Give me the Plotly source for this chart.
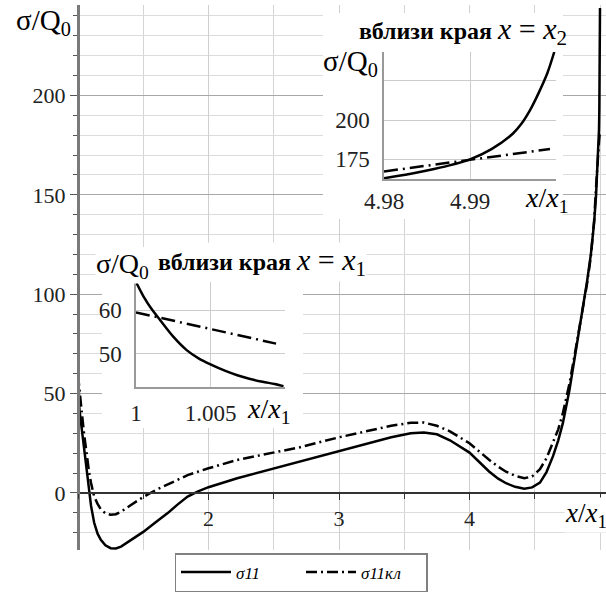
import plotly.graph_objects as go

# ---------------- data ----------------
x_main = [1.0, 1.002, 1.005, 1.01, 1.02, 1.03, 1.047, 1.065, 1.086, 1.1, 1.124, 1.15, 1.175,
          1.21, 1.25, 1.29, 1.33, 1.4, 1.5, 1.6, 1.69, 1.76, 1.84, 1.92, 2.0, 2.22, 2.5,
          2.7, 3.0, 3.2, 3.4, 3.55, 3.65, 3.75, 3.85, 4.0, 4.08, 4.15, 4.22, 4.28, 4.35,
          4.42, 4.48, 4.54, 4.59, 4.64, 4.68, 4.715, 4.766, 4.818, 4.868, 4.9, 4.93,
          4.955, 4.97, 4.98, 4.985, 4.99, 4.9925, 4.995, 4.997, 4.9985, 5.0]
s11_main = [66.5, 56.5, 47.5, 42.5, 37.0, 31.5, 21.6, 11.0, 0.0, -6.5, -15.0, -20.5, -23.6,
            -26.3, -27.8, -27.9, -27.0, -24.0, -19.6, -14.5, -10.0, -6.0, -1.8, 0.8, 2.9, 7.4, 12.3,
            15.7, 21.0, 24.5, 28.0, 30.0, 30.4, 29.5, 26.5, 20.3, 15.5, 10.8, 7.2, 4.9, 3.1,
            2.1, 2.8, 5.2, 10.5, 18.5, 26.5, 35.0, 51.8, 72.0, 93.0, 106.0, 120.0,
            136.0, 150.0, 163.0, 168.2, 175.0, 183.0, 193.4, 211.0, 228.0, 244.0]
s11kl_main = [59.5, 58.0, 55.7, 52.0, 46.0, 40.0, 29.5, 19.5, 10.0, 5.0, -1.8, -5.5, -8.3,
              -10.2, -11.0, -10.7, -9.4, -6.3, -2.0, 1.6, 4.2, 6.5, 9.0, 10.8, 12.4, 16.6, 20.5,
              23.0, 28.0, 31.0, 33.8, 35.3, 35.4, 33.8, 31.0, 25.0, 20.5, 16.7, 13.2, 10.7, 8.6,
              7.4, 8.3, 12.0, 17.5, 25.3, 32.0, 40.0, 55.0, 74.0, 93.0, 105.0, 119.0,
              137.0, 154.0, 167.3, 171.1, 174.8, 176.7, 178.6, 180.0, 181.0, 181.8]

# inset near x = x1
x_in1 = [1.0, 1.0005, 1.001, 1.0016, 1.0025, 1.0034, 1.0042, 1.005, 1.006, 1.0068,
         1.0076, 1.0085, 1.0093, 1.0099]
s11_in1 = [66.5, 63.2, 60.5, 57.8, 53.9, 50.8, 48.9, 47.5, 46.0, 45.0, 44.2, 43.5, 43.0, 42.5]
x_in1_kl = [1.0, 1.0025, 1.005, 1.0075, 1.0094]
s11kl_in1 = [59.5, 57.6, 55.7, 53.8, 52.3]

# inset near x = x2
x_in2 = [4.98, 4.9825, 4.985, 4.9875, 4.99, 4.9925, 4.995, 4.996, 4.997, 4.998, 4.999, 4.9998]
s11_in2 = [163.0, 165.2, 167.9, 171.0, 175.0, 181.5, 191.5, 197.8, 206.5, 217.5, 230.0, 243.4]
x_in2_kl = [4.98, 4.985, 4.99, 4.995, 4.9993]
s11kl_in2 = [167.3, 171.1, 174.8, 178.6, 181.6]

main_xticks = [2, 3, 4]
main_yticks = [0, 50, 100, 150, 200]
in1_xticks = [1, 1.005]
in1_xtext = ["1", "1.005"]
in1_yticks = [50, 60]
in2_xticks = [4.98, 4.99]
in2_xtext = ["4.98", "4.99"]
in2_yticks = [175, 200, 225]
in2_ytext = ["175", "200", ""]

series_names = ["<i>σ11</i>", "<i>σ11кл</i>"]

# ---------------- layout geometry ----------------
W, H = 606, 598
ML, MR, MT, MB = 78, 0, 5, 48
PW, PH = W - ML - MR, H - MT - MB
XR = [1.0, 5.046]
YR = [-28.7, 245.5]
FONT = "'Liberation Serif', 'Times New Roman', Times, 'DejaVu Serif', serif"


def px(xp):
    return (xp - ML) / PW


def py(yp):
    return (H - MB - yp) / PH


def dx(xp):
    return XR[0] + px(xp) * (XR[1] - XR[0])


def dy(yp):
    return YR[0] + py(yp) * (YR[1] - YR[0])


DASH_MAIN = "11px,4px,2px,4px"
DASH_IN = "14px,5px,2px,5px"

fig = go.Figure()
fig.add_trace(go.Scatter(x=x_main, y=s11_main, mode="lines", name=series_names[0],
                         line=dict(color="black", width=2.5), xaxis="x", yaxis="y"))
fig.add_trace(go.Scatter(x=x_main, y=s11kl_main, mode="lines", name=series_names[1],
                         line=dict(color="black", width=2.5, dash=DASH_MAIN), xaxis="x", yaxis="y"))
fig.add_trace(go.Scatter(x=x_in1, y=s11_in1, mode="lines", showlegend=False,
                         line=dict(color="black", width=2.5, shape="spline", smoothing=0.8),
                         xaxis="x2", yaxis="y2"))
fig.add_trace(go.Scatter(x=x_in1_kl, y=s11kl_in1, mode="lines", showlegend=False,
                         line=dict(color="black", width=2.5, dash=DASH_IN), xaxis="x2", yaxis="y2"))
fig.add_trace(go.Scatter(x=x_in2, y=s11_in2, mode="lines", showlegend=False,
                         line=dict(color="black", width=2.5, shape="spline", smoothing=0.8),
                         xaxis="x3", yaxis="y3"))
fig.add_trace(go.Scatter(x=x_in2_kl, y=s11kl_in2, mode="lines", showlegend=False,
                         line=dict(color="black", width=2.5, dash=DASH_IN), xaxis="x3", yaxis="y3"))

tickfont_main = dict(family=FONT, size=22, color="#222")
tickfont_in = dict(family=FONT, size=23, color="#222")

fig.update_layout(
    width=W, height=H, template="none",
    font=dict(family=FONT),
    margin=dict(l=ML, r=MR, t=MT, b=MB, autoexpand=False),
    paper_bgcolor="white", plot_bgcolor="white",
    showlegend=True,
    legend=dict(orientation="h", x=px(301), xanchor="center", y=py(592), yanchor="bottom",
                bordercolor="#808080", borderwidth=1.5, bgcolor="white",
                font=dict(family=FONT, size=17, color="black"), itemwidth=50,
                entrywidth=60, entrywidthmode="pixels"),
    xaxis=dict(domain=[0, 1], range=XR, anchor="free", position=(0 - YR[0]) / (YR[1] - YR[0]),
               tickmode="array", tickvals=main_xticks, ticks="outside", ticklen=6,
               tickcolor="#333", showline=True, linecolor="#333", linewidth=2,
               showgrid=True, gridcolor="#cfcfcf", zeroline=False, tickfont=tickfont_main,
               minor=dict(dtick=0.5, tick0=1, ticks="outside", ticklen=5, tickcolor="#333",
                          showgrid=True, gridcolor="#d4d4d4")),
    yaxis=dict(domain=[0, 1], range=YR, anchor="free", position=0,
               tickmode="array", tickvals=main_yticks, ticks="outside", ticklen=7,
               tickcolor="#555", showline=True, linecolor="#7a7a7a", linewidth=3,
               showgrid=True, gridcolor="#a8a8a8", zeroline=False, tickfont=tickfont_main,
               minor=dict(dtick=10, tick0=0, ticks="outside", ticklen=4, tickcolor="#555",
                          showgrid=True, gridcolor="#dcdcdc")),
    xaxis2=dict(domain=[px(136), px(285)], range=[1.0, 1.01], anchor="y2",
                tickmode="array", tickvals=in1_xticks, ticktext=in1_xtext, ticks="",
                showline=True, linecolor="#999", linewidth=1.5, showgrid=True,
                gridcolor="#cccccc", zeroline=False, tickfont=tickfont_in, ticklabelstandoff=5),
    yaxis2=dict(domain=[py(387), py(282)], range=[42.3, 66.5], anchor="x2",
                tickmode="array", tickvals=in1_yticks, ticks="",
                showline=True, linecolor="#999", linewidth=1.5, showgrid=True,
                gridcolor="#cccccc", zeroline=False, tickfont=tickfont_in, ticklabelstandoff=8),
    xaxis3=dict(domain=[px(384), px(556)], range=[4.98, 5.0], anchor="y3",
                tickmode="array", tickvals=in2_xticks, ticktext=in2_xtext, ticks="",
                showline=True, linecolor="#999", linewidth=1.5, showgrid=True,
                gridcolor="#cccccc", zeroline=False, tickfont=tickfont_in, ticklabelstandoff=0),
    yaxis3=dict(domain=[py(179.3), py(52)], range=[162.3, 243.4], anchor="x3",
                tickmode="array", tickvals=in2_yticks, ticktext=in2_ytext, ticks="",
                showline=True, linecolor="#999", linewidth=1.5, showgrid=True,
                gridcolor="#cccccc", zeroline=False, tickfont=tickfont_in, ticklabelstandoff=8),
)

# white backgrounds behind the insets (above main grid, below traces)
for (a, b, c, d) in [(102, 303, 247, 428), (323, 563, 13, 219)]:
    fig.add_shape(type="rect", xref="x", yref="y", x0=dx(a), x1=dx(b), y0=dy(d), y1=dy(c),
                  fillcolor="white", line=dict(width=0), layer="between")

title_tpl = ("<b>вблизи края</b> <span style='font-size:30px'><i>x</i> = "
             "<i>x</i><sub>{}</sub></span>")
xlab = "<i>x</i>/<i>x</i><sub>1</sub>"
ylab = "σ/Q<sub>0</sub>"

ann = [
    dict(text=ylab, x=px(72), xanchor="right", y=py(22), yanchor="middle", size=29, bg=None),
    dict(text=xlab, x=px(564), xanchor="left", y=py(515), yanchor="middle", size=27, bg="white"),
    dict(text=ylab, x=px(150), xanchor="right", y=py(265), yanchor="middle", size=28, bg="white"),
    dict(text=title_tpl.format(1), x=px(157), xanchor="left", y=py(262), yanchor="middle", size=24, bg="white"),
    dict(text=xlab, x=px(246), xanchor="left", y=py(410), yanchor="middle", size=28, bg=None),
    dict(text=title_tpl.format(2), x=px(358), xanchor="left", y=py(31), yanchor="middle", size=24, bg=None),
    dict(text=ylab, x=px(379), xanchor="right", y=py(63), yanchor="middle", size=29, bg=None),
    dict(text=xlab, x=px(524), xanchor="left", y=py(200), yanchor="middle", size=28, bg=None),
]
for a in ann:
    fig.add_annotation(text=a["text"], xref="paper", yref="paper", x=a["x"], y=a["y"],
                       xanchor=a["xanchor"], yanchor=a["yanchor"], showarrow=False,
                       font=dict(family=FONT, size=a["size"], color="black"),
                       bgcolor=a["bg"] if a["bg"] else "rgba(0,0,0,0)", borderpad=0)

fig.write_html("out.html", config={"displayModeBar": False},
               post_script="document.body.style.margin='0px';"
                           "document.body.style.overflow='hidden';")
